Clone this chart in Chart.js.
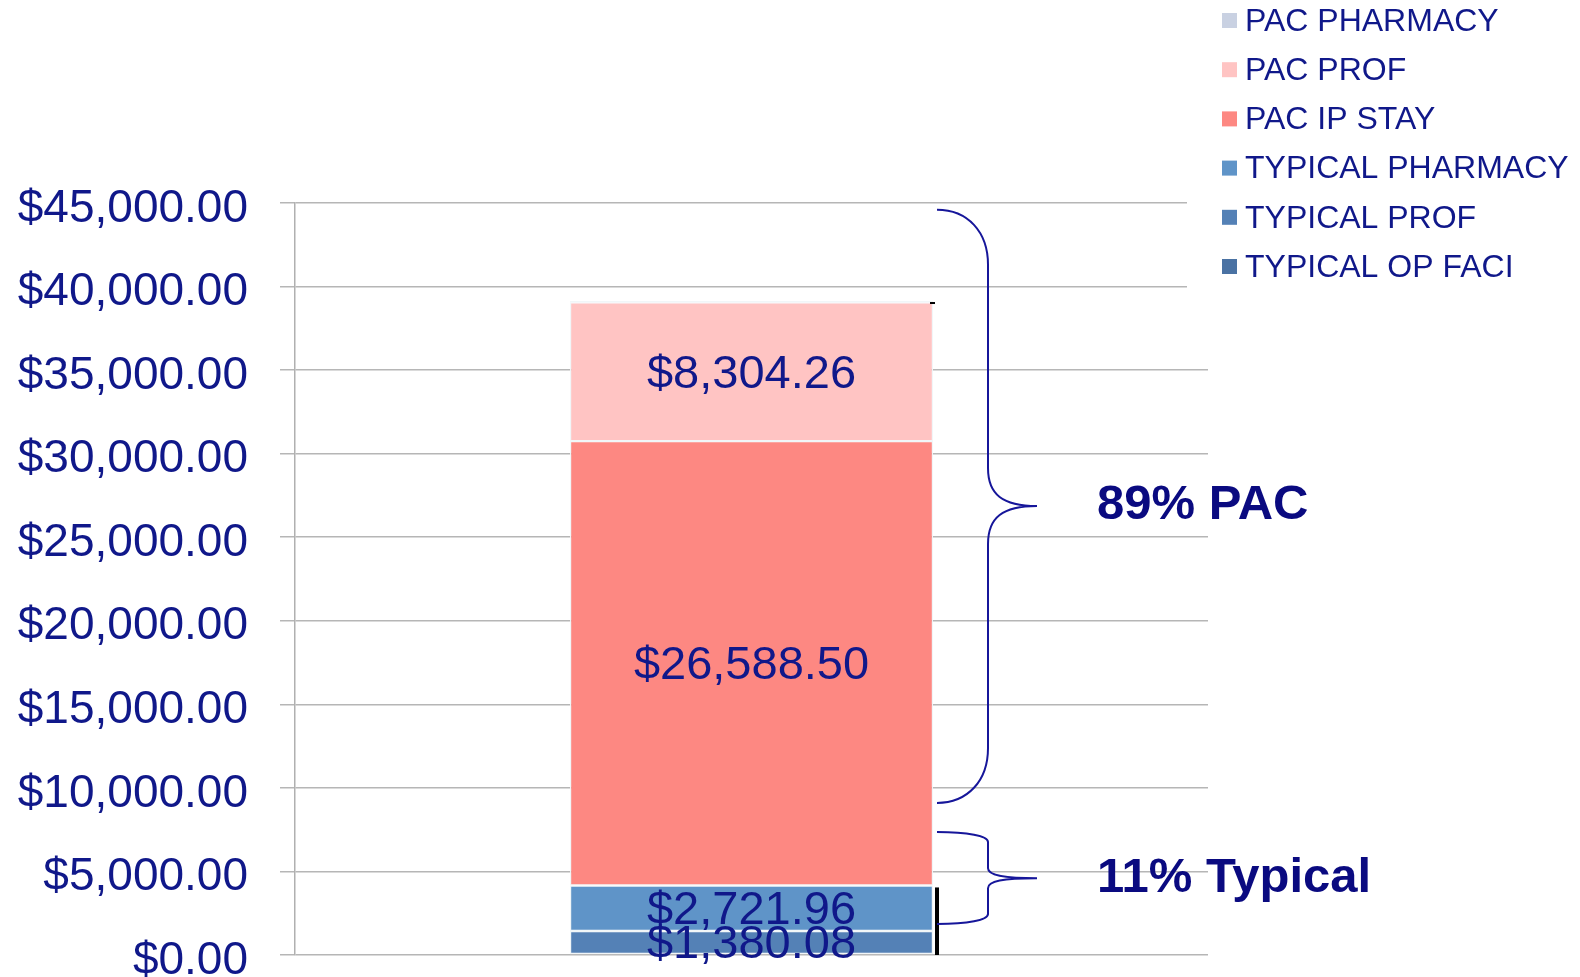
<!DOCTYPE html>
<html>
<head>
<meta charset="utf-8">
<script src="https://cdn.jsdelivr.net/npm/chart.js@4/dist/chart.umd.min.js"></script>
<style>
  html, body { margin: 0; padding: 0; background: #ffffff; }
  #wrap { width: 1580px; height: 977px; position: relative; }
</style>
</head>
<body>
<div id="wrap"><canvas id="c" width="1580" height="977"></canvas></div>
<script>
// ---- data ----
const categories = [''];
const seriesNames = ['TYPICAL OP FACI', 'TYPICAL PROF', 'TYPICAL PHARMACY', 'PAC IP STAY', 'PAC PROF', 'PAC PHARMACY'];
const typicalOpFaci = [60];
const typicalProf = [1380.08];
const typicalPharmacy = [2721.96];
const pacIpStay = [26588.50];
const pacProf = [8304.26];
const pacPharmacy = [80];
const showValueLabel = [false, true, true, true, true, false];
const yTicks = [0, 5000, 10000, 15000, 20000, 25000, 30000, 35000, 40000, 45000];
const groupLabels = ['89% PAC', '11% Typical'];

// ---- styles ----
const seriesColors = ['#4a72a3', '#5481b6', '#5f94c8', '#fd8882', '#ffc4c3', '#c9d1e2'];
const navy = '#10188a';
const FONT = "'Liberation Sans', Arial, sans-serif";

const seriesValues = [typicalOpFaci, typicalProf, typicalPharmacy, pacIpStay, pacProf, pacPharmacy];
const datasets = seriesNames.map((name, i) => ({
  label: name,
  data: seriesValues[i],
  backgroundColor: seriesColors[i],
  borderColor: 'rgba(240,246,248,0.95)',
  borderWidth: 1.2,
  borderSkipped: false,
  barPercentage: 0.497,
  categoryPercentage: 0.8
}));

function money(v) {
  return '$' + v.toLocaleString('en-US', { minimumFractionDigits: 2, maximumFractionDigits: 2 });
}

// brace annotation spans in data units (PAC group, typical group)
const braceSpans = [
  { top: 44600, mid: 26870, bot: 9100, rEnd: 55, rMid: 38 },
  { top: 7360, mid: 4600, bot: 1850, rEnd: 10, rMid: 10 }
];

function drawBrace(ctx, x0, x1, x2, yT, yM, yB, rE, rM) {
  ctx.beginPath();
  ctx.moveTo(x0, yT);
  ctx.bezierCurveTo(x0 + (x1 - x0) * 0.6, yT, x1, yT + rE * 0.4, x1, yT + rE);
  ctx.lineTo(x1, yM - rM);
  ctx.bezierCurveTo(x1, yM - rM * 0.3, x1 + (x2 - x1) * 0.3, yM, x2, yM);
  ctx.bezierCurveTo(x1 + (x2 - x1) * 0.3, yM, x1, yM + rM * 0.3, x1, yM + rM);
  ctx.lineTo(x1, yB - rE);
  ctx.bezierCurveTo(x1, yB - rE * 0.4, x0 + (x1 - x0) * 0.6, yB, x0, yB);
  ctx.stroke();
}

const decorPlugin = {
  id: 'decor',
  afterDraw(chart) {
    const ctx = chart.ctx;
    const ys = chart.scales.y;
    const ca = chart.chartArea;

    // value labels
    ctx.save();
    ctx.font = '47px ' + FONT;
    ctx.fillStyle = navy;
    ctx.textAlign = 'center';
    ctx.textBaseline = 'middle';
    chart.data.datasets.forEach((ds, di) => {
      if (!showValueLabel[di]) return;
      const meta = chart.getDatasetMeta(di);
      meta.data.forEach((el, j) => {
        const p = el.getCenterPoint();
        ctx.fillText(money(ds.data[j]), p.x, p.y + 3);
      });
    });
    ctx.restore();

    // right-edge black line for the typical part
    const bar0 = chart.getDatasetMeta(0).data[0];
    const barRight = bar0.x + bar0.width / 2;
    const typicalTotal = typicalOpFaci[0] + typicalProf[0] + typicalPharmacy[0];
    const total = seriesValues.reduce((s, a) => s + a[0], 0);
    ctx.save();
    ctx.fillStyle = '#000000';
    ctx.fillRect(barRight + 2, ys.getPixelForValue(typicalTotal) + 2, 4, ys.getPixelForValue(0) - ys.getPixelForValue(typicalTotal) - 2);
    ctx.fillRect(barRight - 3, ys.getPixelForValue(total) + 1, 5, 2);
    ctx.restore();

    // braces + group labels
    ctx.save();
    ctx.strokeStyle = '#16169a';
    ctx.lineWidth = 2;
    const x0 = barRight + 4, x1 = barRight + 55, x2 = barRight + 104;
    braceSpans.forEach((b, i) => {
      const yT = ys.getPixelForValue(b.top), yM = ys.getPixelForValue(b.mid), yB = ys.getPixelForValue(b.bot);
      drawBrace(ctx, x0, x1, x2, yT, yM, yB, b.rEnd, b.rMid);
      ctx.font = 'bold 49px ' + FONT;
      ctx.fillStyle = '#0a0a80';
      ctx.textAlign = 'left';
      ctx.textBaseline = 'middle';
      ctx.fillText(groupLabels[i], x2 + 60, yM);
    });
    ctx.restore();

    // legend (white panel over grid, reversed order)
    ctx.save();
    ctx.fillStyle = '#ffffff';
    ctx.fillRect(ca.right - 21, 0, chart.width - (ca.right - 21), ys.getPixelForValue(40000) + 6);
    ctx.font = '32px ' + FONT;
    ctx.textAlign = 'left';
    ctx.textBaseline = 'middle';
    const n = seriesNames.length;
    for (let k = 0; k < n; k++) {
      const i = n - 1 - k;
      const cy = 21 + k * 49.2;
      ctx.fillStyle = seriesColors[i];
      ctx.fillRect(ca.right + 14, cy - 8, 15, 15);
      ctx.fillStyle = navy;
      ctx.fillText(seriesNames[i], ca.right + 37, cy + 1);
    }
    ctx.restore();
  }
};

new Chart(document.getElementById('c'), {
  type: 'bar',
  data: { labels: categories, datasets: datasets },
  options: {
    responsive: false,
    animation: false,
    events: [],
    layout: { padding: { left: 0, top: 203, right: 372, bottom: 22 } },
    plugins: { legend: { display: false }, tooltip: { enabled: false } },
    scales: {
      x: { stacked: true, display: false },
      y: {
        stacked: true,
        min: 0,
        max: 45000,
        afterFit(scale) { scale.width = 295; scale.paddingTop = 0; scale.paddingBottom = 0; },
        afterBuildTicks(scale) { scale.ticks = yTicks.map(v => ({ value: v })); },
        ticks: {
          padding: 32,
          labelOffset: 6,
          color: navy,
          font: { family: FONT, size: 46 },
          callback: (v) => money(v)
        },
        grid: { color: '#b6b6b6', lineWidth: 1.5, tickLength: 15, drawTicks: true },
        border: { display: true, color: '#b0b0b0', width: 1.5 }
      }
    }
  },
  plugins: [decorPlugin]
});
</script>
</body>
</html>
